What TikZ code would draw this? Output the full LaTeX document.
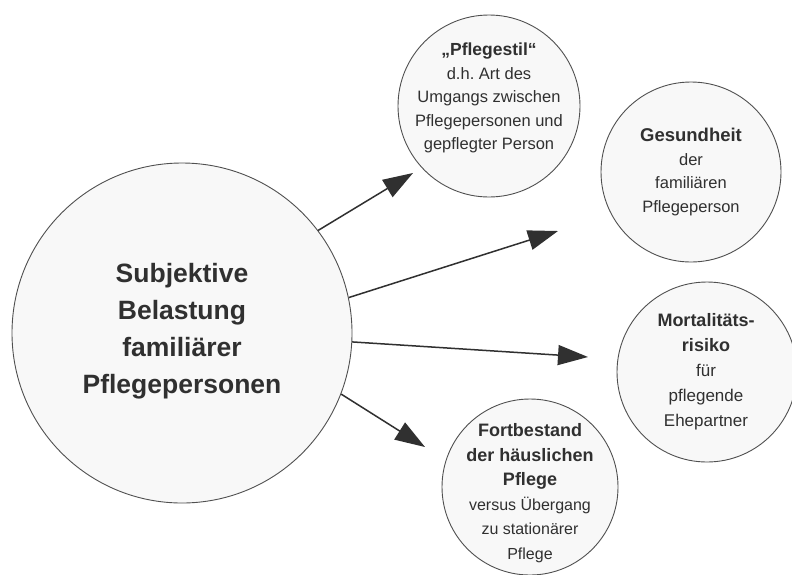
\documentclass[tikz,border=0pt]{standalone}
\usepackage{fontspec}
\setmainfont{Liberation Sans}
\usetikzlibrary{arrows.meta}
\frenchspacing
\definecolor{ink}{HTML}{303030}
\definecolor{rim}{HTML}{505050}
\definecolor{disc}{HTML}{F8F8F8}
\newcommand\bhead[2][17.5]{{\fontsize{#1}{20}\selectfont\bfseries #2}}
\begin{document}
\begin{tikzpicture}[x=1pt,y=-1pt,
  bubble/.style={circle,draw=rim,line width=0.9pt,fill=disc,inner sep=0pt},
  txt/.style={align=center,text=ink,inner sep=0pt},
  small/.style={txt,font=\fontsize{16.5}{23.5}\selectfont},
  arr/.style={draw=ink,line width=1.5pt,-{Triangle[length=30pt,width=20pt]}}]
\fill[white] (0,0) rectangle (792,574);
\useasboundingbox (0,0) rectangle (792,574);
% circles
\node[bubble,minimum size=340pt] (big) at (182,333) {};
\node[bubble,minimum size=182pt] (c1) at (489,106) {};
\node[bubble,minimum size=180pt] (c2) at (691,172) {};
\node[bubble,minimum size=180pt] (c3) at (707,372) {};
\node[bubble,minimum size=176pt] (c4) at (530,487) {};
% texts
\node[txt,font=\bfseries\fontsize{26.5}{37}\selectfont] (tbig) at (182,331)
  {Subjektive\\Belastung\\familiärer\\Pflegepersonen};
\node[small] (t1) at (489,98)
  {\bhead{„Pflegestil“}\\d.h.\ Art des\\Umgangs zwischen\\Pflegepersonen und\\gepflegter Person};
\node[small] (t2) at (691,172)
  {\bhead[18.5]{Gesundheit}\\der\\familiären\\Pflegeperson};
\node[small,font=\fontsize{17}{25}\selectfont] (t3) at (706,372)
  {\bhead[18]{Mortalitäts-}\\\bhead[18]{risiko}\\für\\pflegende\\Ehepartner};
\node[txt,font=\fontsize{16}{24.5}\selectfont] (t4) at (530,493)
  {\bhead[18]{Fortbestand}\\\bhead[18]{der häuslichen}\\\bhead[18]{Pflege}\\versus Übergang\\zu stationärer\\Pflege};
% arrow ends
\coordinate (e1) at (413,173);
\coordinate (e2) at (558,231);
\coordinate (e3) at (588,357);
\coordinate (e4) at (425,447);
\draw[arr] (big.37) -- (e1);
\draw[arr] (big.12) -- (e2);
\draw[arr] (big.-3) -- (e3);
\draw[arr] (big.-21) -- (e4);
\end{tikzpicture}
\end{document}
